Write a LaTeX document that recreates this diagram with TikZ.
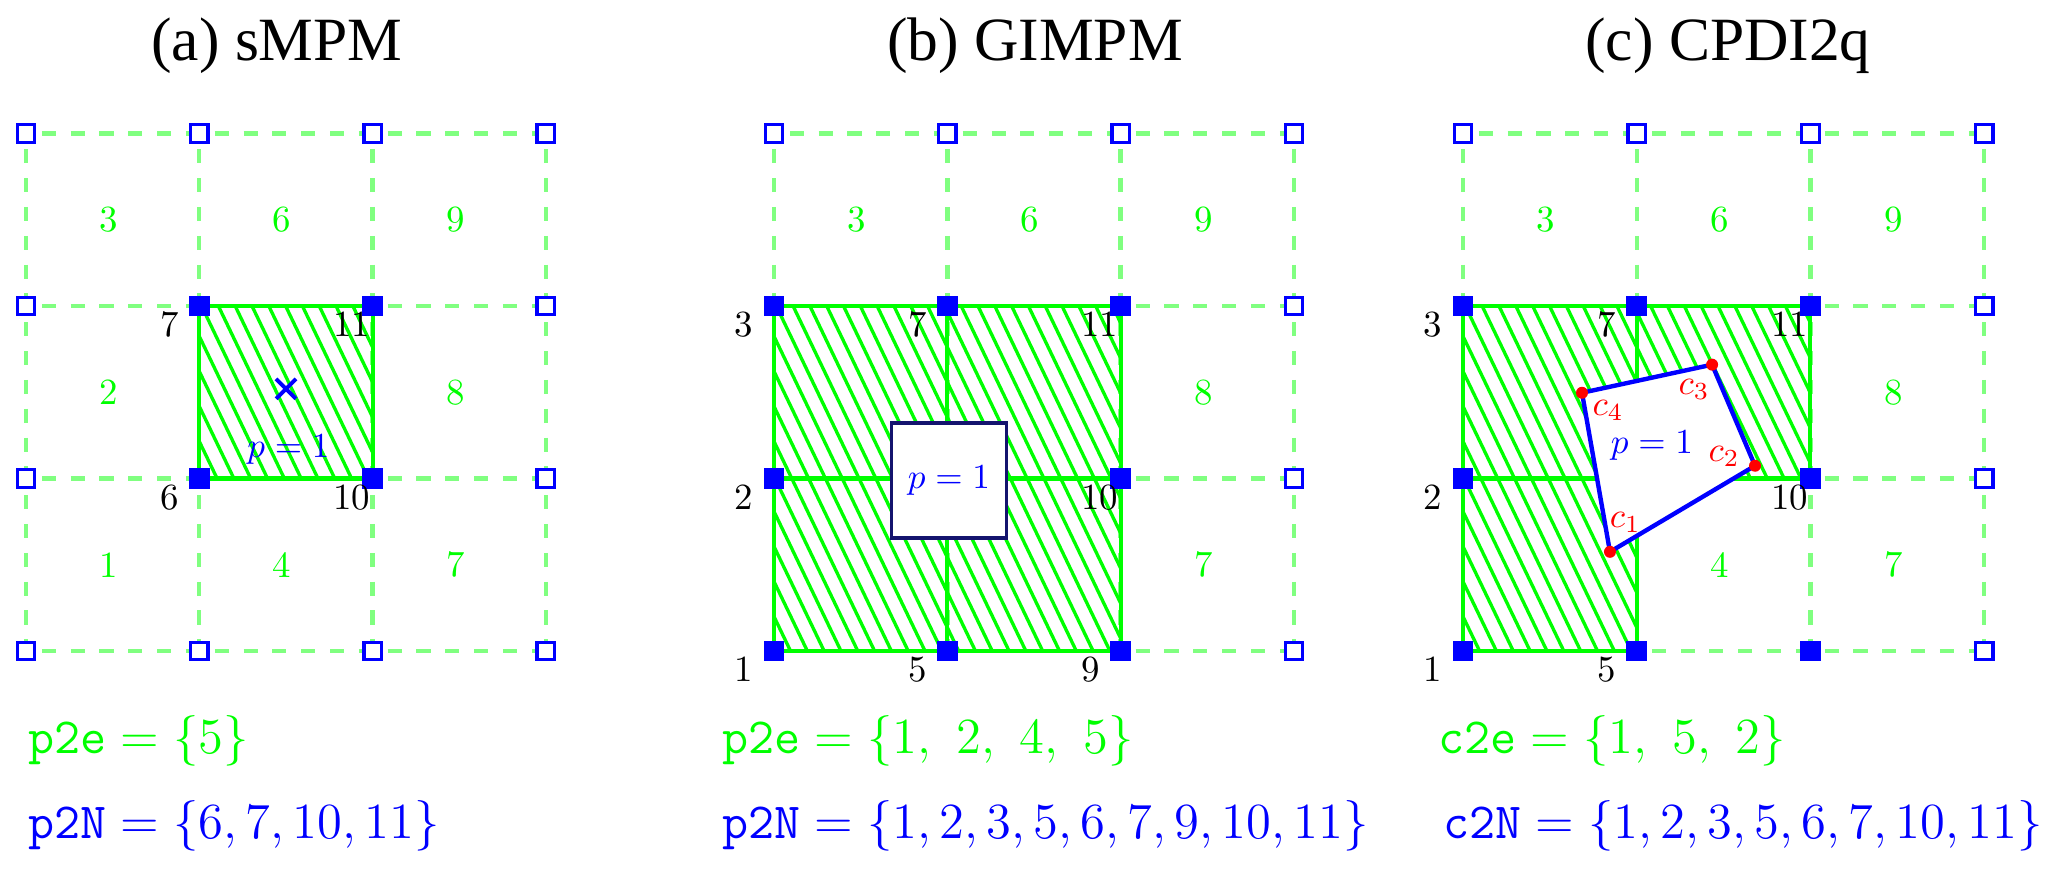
\documentclass[tikz,border=0pt]{standalone}
\usepackage{fontspec}
\newfontfamily\titlefont{Liberation Serif}
\usetikzlibrary{shapes.misc}
\definecolor{meshgreen}{RGB}{128,255,128}
\definecolor{ptclnavy}{RGB}{20,20,110}
\tikzset{
  meshline/.style={meshgreen, dash pattern=on 4pt off 4.2pt, dash phase=3.7pt, line width=1.25pt},
  elemline/.style={green, line width=1.15pt},
  hatchline/.style={green, line width=0.95pt},
  idlenode/.style={rectangle, draw=blue, fill=white, line width=0.95pt, minimum size=0.175cm, inner sep=0pt},
  actnode/.style={rectangle, fill=blue, minimum size=0.205cm, inner sep=0pt},
  nodenum/.style={anchor=base west, xshift=-0.29cm, yshift=-0.20cm, inner sep=0pt, text=black,
    font=\fontsize{10.5}{12}\selectfont},
  cellnum/.style={text=green, xshift=-0.04cm, font=\fontsize{10.5}{12}\selectfont},
  paneltitle/.style={anchor=base, font=\titlefont\fontsize{17.5}{20}\selectfont},
  listtext/.style={anchor=base west, inner sep=0pt, font=\fontsize{14.4}{17}\selectfont},
  ptcltext/.style={text=blue, font=\fontsize{10}{12}\selectfont},
  cdot/.style={circle, fill=red, minimum size=0.12cm, inner sep=0pt},
  clabel/.style={text=red, font=\fontsize{10}{12}\selectfont},
}

\begin{document}
\begin{tikzpicture}
  \useasboundingbox (0,0) rectangle (20.67,-8.68);

  \node[paneltitle] (ta) at (2.77,-0.60) {(a) sMPM};
  \node[paneltitle] (tb) at (10.35,-0.60) {(b) GIMPM};
  \node[paneltitle] (tc) at (17.28,-0.60) {(c) CPDI2q};

  % (a) sMPM
  \begin{scope}[shift={(0.26,-6.51)}, x=1.733cm, y=1.725cm]
    \foreach \i in {0,...,3} {
      \draw[meshline] (\i,3) -- (\i,0);
      \draw[meshline] (0,\i) -- (3,\i);
    }
    \foreach \n/\x/\y in {1/0.5/0.5,2/0.5/1.5,3/0.5/2.5,4/1.5/0.5,6/1.5/2.5,7/2.5/0.5,8/2.5/1.5,9/2.5/2.5}
      \node[cellnum] (ae\n) at (\x,\y) {\n};
    \begin{scope}
      \clip (1,1) rectangle (2,2);
      \foreach \s in {-1.5,-1.403,...,3} \draw[hatchline] (\s,3.2) -- ++(1.6,-3.35);
    \end{scope}
    \draw[elemline] (1,1) rectangle (2,2);
    \foreach \i in {0,...,3} \foreach \j in {0,...,3} {
      \pgfmathtruncatemacro{\n}{4*\i+\j+1}
      \node[idlenode] (ao\n) at (\i,\j) {};
    }
    \foreach \n/\x/\y in {6/1/1,7/1/2,10/2/1,11/2/2}
      \node[actnode, label={[nodenum]below left:\n}] (an\n) at (\x,\y) {};
    \node[draw=blue, cross out, line width=1.1pt, minimum size=0.16cm, inner sep=0pt] (ax) at (1.5,1.52) {};
    \node[ptcltext] (ap) at (1.515,1.165) {$p=1$};
  \end{scope}

  % (b) GIMPM
  \begin{scope}[shift={(7.74,-6.51)}, x=1.733cm, y=1.725cm]
    \foreach \i in {0,...,3} {
      \draw[meshline] (\i,3) -- (\i,0);
      \draw[meshline] (0,\i) -- (3,\i);
    }
    \foreach \n/\x/\y in {3/0.5/2.5,6/1.5/2.5,7/2.5/0.5,8/2.5/1.5,9/2.5/2.5}
      \node[cellnum] (be\n) at (\x,\y) {\n};
    \begin{scope}
      \clip (0,0) rectangle (2,2);
      \foreach \s in {-2.5,-2.403,...,3} \draw[hatchline] (\s,3.2) -- ++(1.6,-3.35);
    \end{scope}
    \foreach \x/\y in {0/0,0/1,1/0,1/1}
      \draw[elemline] (\x,\y) rectangle ++(1,1);
    \foreach \i in {0,...,3} \foreach \j in {0,...,3} {
      \pgfmathtruncatemacro{\n}{4*\i+\j+1}
      \node[idlenode] (bo\n) at (\i,\j) {};
    }
    \foreach \n/\x/\y in {1/0/0,2/0/1,3/0/2,5/1/0,7/1/2,9/2/0,10/2/1,11/2/2}
      \node[actnode, label={[nodenum]below left:\n}] (bn\n) at (\x,\y) {};
    \node[actnode] (bn6) at (1,1) {};
    \node[draw=ptclnavy, fill=white, line width=1.1pt, minimum size=1.15cm, inner sep=0pt, text=blue,
      font=\fontsize{10}{12}\selectfont] (bp) at (1.01,0.99) {$p=1$};
  \end{scope}

  % (c) CPDI2q
  \begin{scope}[shift={(14.63,-6.51)}, x=1.737cm, y=1.725cm]
    \foreach \i in {0,...,3} {
      \draw[meshline] (\i,3) -- (\i,0);
      \draw[meshline] (0,\i) -- (3,\i);
    }
    \foreach \n/\x/\y in {3/0.5/2.5,4/1.5/0.5,6/1.5/2.5,7/2.5/0.5,8/2.5/1.5,9/2.5/2.5}
      \node[cellnum] (ce\n) at (\x,\y) {\n};
    \begin{scope}
      \clip (0,0) rectangle (1,2) (1,1) rectangle (2,2);
      \foreach \s in {-2.5,-2.403,...,3} \draw[hatchline] (\s,3.2) -- ++(1.6,-3.35);
    \end{scope}
    \foreach \x/\y in {0/0,0/1,1/1}
      \draw[elemline] (\x,\y) rectangle ++(1,1);
    \foreach \i in {0,...,3} \foreach \j in {0,...,3} {
      \pgfmathtruncatemacro{\n}{4*\i+\j+1}
      \node[idlenode] (co\n) at (\i,\j) {};
    }
    \foreach \n/\x/\y in {1/0/0,2/0/1,3/0/2,5/1/0,7/1/2,10/2/1,11/2/2}
      \node[actnode, label={[nodenum]below left:\n}] (cn\n) at (\x,\y) {};
    \node[actnode] (cn6) at (1,1) {};
    \node[actnode] (cn9) at (2,0) {};
    \coordinate (cc1) at (0.846,0.575);
    \coordinate (cc2) at (1.681,1.074);
    \coordinate (cc3) at (1.434,1.660);
    \coordinate (cc4) at (0.685,1.497);
    \filldraw[draw=blue, fill=white, line width=1.25pt, line join=round] (cc1) -- (cc2) -- (cc3) -- (cc4) -- cycle;
    \foreach \k in {1,...,4}
      \node[cdot] (cd\k) at (cc\k) {};
    \node[clabel] (cl1) at (0.935,0.745) {$c_1$};
    \node[clabel] (cl2) at (1.503,1.128) {$c_2$};
    \node[clabel] (cl3) at (1.330,1.517) {$c_3$};
    \node[clabel] (cl4) at (0.835,1.395) {$c_4$};
    \node[ptcltext] (cp) at (1.088,1.190) {$p=1$};
  \end{scope}

  \node[listtext, text=green] (ea) at (0.28,-7.53) {$\mathtt{p2e}=\{5\}$};
  \node[listtext, text=blue] (na) at (0.28,-8.38) {$\mathtt{p2N}=\{6,7,10,11\}$};
  \node[listtext, text=green] (eb) at (7.22,-7.53) {$\mathtt{p2e}=\{1,\ 2,\ 4,\ 5\}$};
  \node[listtext, text=blue] (nb) at (7.22,-8.38) {$\mathtt{p2N}=\{1,2,3,5,6,7,9,10,11\}$};
  \node[listtext, text=green] (ec) at (14.38,-7.53) {$\mathtt{c2e}=\{1,\ 5,\ 2\}$};
  \node[listtext, text=blue] (nc) at (14.43,-8.38) {$\mathtt{c2N}=\{1,2,3,5,6,7,10,11\}$};
\end{tikzpicture}
\end{document}
